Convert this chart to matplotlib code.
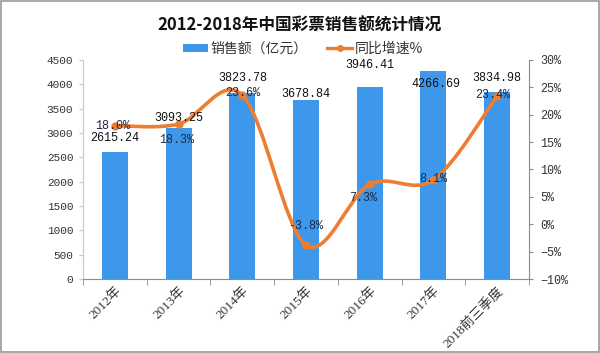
import numpy as np
import matplotlib
matplotlib.use('Agg')
import matplotlib.pyplot as plt
from matplotlib.path import Path
from matplotlib.patches import PathPatch, Patch, Rectangle
from matplotlib.lines import Line2D

plt.rcParams['font.family'] = ['Noto Sans CJK SC', 'DejaVu Sans']

years = ['2012年', '2013年', '2014年', '2015年', '2016年', '2017年', '2018前三季度']
sales = [2615.24, 3093.25, 3823.78, 3678.84, 3946.41, 4266.69, 3834.98]
growth = [18.0, 18.3, 23.6, -3.8, 7.3, 8.1, 23.4]

# label nudges in points (style only)
sales_off = [(0, 10), (0, 7.5), (0, 11), (0, 4), (0, 16), (2, -9), (0, 10)]
growth_off = [(-1.5, 0), (-1.5, -11.5), (0, 1.5), (0, 14), (-5, -10), (0, 1), (-3.5, 0.5)]

bar_color = '#3d97ea'
line_color = '#ed7d31'
num_font = 'Liberation Mono'

fig = plt.figure(figsize=(6, 3.53), dpi=100)
ax = fig.add_axes([83 / 600, 1 - 279 / 353, 446 / 600, 219 / 353])
ax2 = ax.twinx()

x = np.arange(len(years))
ax.bar(x, sales, width=0.41, color=bar_color, zorder=2)
ax.set_xlim(-0.5, len(years) - 0.5)
ax.set_ylim(0, 4500)
ax.set_yticks(np.arange(0, 4501, 500))
ax2.set_ylim(-10, 30)
ax2.set_yticks(np.arange(-10, 31, 5))
ax2.set_yticklabels([f'{v}%'.replace('-', '−') for v in range(-10, 31, 5)])

# smoothed growth line (Catmull-Rom bezier through the points)
pts = np.column_stack([x, growth]).astype(float)
n = len(pts)
verts = [tuple(pts[0])]
codes = [Path.MOVETO]
for i in range(n - 1):
    p0 = pts[max(i - 1, 0)]
    p1 = pts[i]
    p2 = pts[i + 1]
    p3 = pts[min(i + 2, n - 1)]
    c1 = p1 + (p2 - p0) / 6
    c2 = p2 - (p3 - p1) / 6
    verts += [tuple(c1), tuple(c2), tuple(p2)]
    codes += [Path.CURVE4] * 3
ax2.add_patch(PathPatch(Path(verts, codes), facecolor='none', edgecolor=line_color,
                        lw=2.6, capstyle='round', zorder=3))
ax2.plot(x, growth, 'o', color=line_color, ms=5, zorder=4)

# data labels
for i, v in enumerate(sales):
    ax2.annotate(f'{v:.2f}', (x[i], v), xycoords=ax.transData,
                 xytext=sales_off[i], textcoords='offset points',
                 ha='center', va='center', fontsize=8.5, family=num_font,
                 color='#111111', zorder=5)
for i, v in enumerate(growth):
    ax2.annotate(f'{v:.1f}%', (x[i], v), xytext=growth_off[i],
                 textcoords='offset points', ha='center', va='center',
                 fontsize=8.5, family=num_font, color='#1f2a48', zorder=5)

# axes styling
for s in ['top', 'right']:
    ax.spines[s].set_visible(False)
for s in ['top', 'left', 'bottom']:
    ax2.spines[s].set_visible(False)
ax.spines['left'].set_color('#c8c8c8')
ax.spines['bottom'].set_color('#8c8c8c')
ax2.spines['right'].set_color('#8c8c8c')

ax.tick_params(axis='y', length=3, color='#c8c8c8', labelsize=8, pad=4,
               labelcolor='#333333')
ax2.tick_params(axis='y', length=3, color='#8c8c8c', labelsize=8.5, pad=5,
                labelcolor='#333333')
for lab in ax.get_yticklabels() + ax2.get_yticklabels():
    lab.set_family(num_font)

ax.set_xticks(x)
ax.set_xticks(np.arange(-0.5, len(years)), minor=True)
ax.tick_params(axis='x', which='major', length=0, pad=4)
ax.tick_params(axis='x', which='minor', length=4, color='#8c8c8c')
ax.set_xticklabels(years, rotation=45, ha='right', rotation_mode='anchor',
                   fontsize=9.5, family=['Liberation Serif', 'Noto Sans CJK SC'],
                   color='#333333')

fig.text(0.5, 1 - 26 / 353, '2012-2018年中国彩票销售额统计情况', ha='center', va='center',
         fontsize=12, fontweight='bold', color='#111111')

handles = [Patch(facecolor=bar_color, edgecolor='none'),
           Line2D([], [], color=line_color, lw=2.4, marker='o', ms=4)]
fig.legend(handles, ['销售额（亿元）', '同比增速%'], loc='center',
           bbox_to_anchor=(0.505, 1 - 49 / 353), ncol=2, frameon=False,
           fontsize=10, handlelength=1.8, handleheight=0.55, handletextpad=0.2,
           columnspacing=1.4, labelcolor='#333333')

fig.patches.append(Rectangle((0.002, 0.003), 0.996, 0.994, transform=fig.transFigure,
                             fill=False, edgecolor='#9a9a9a', lw=1.2))

fig.savefig('out.png', dpi=100)
